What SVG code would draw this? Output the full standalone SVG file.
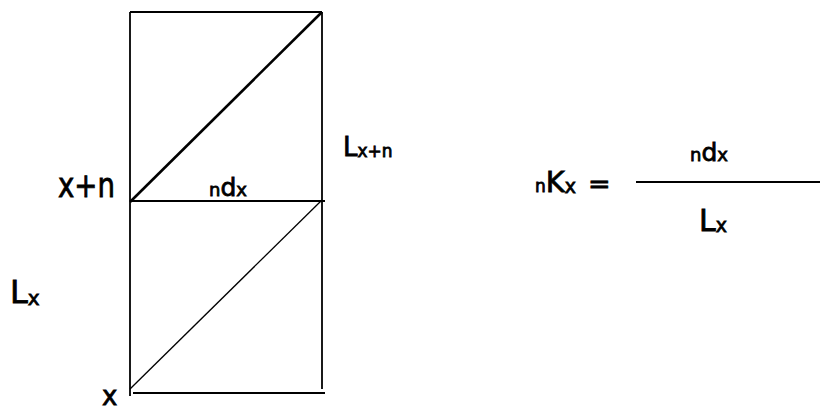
<svg xmlns="http://www.w3.org/2000/svg" width="823" height="410" viewBox="0 0 823 410">
<style>
.ln{stroke:#000;stroke-width:1.8;fill:none}
.thin{stroke:#000;stroke-width:1.3;fill:none}
.thick{stroke:#000;stroke-width:2.6;fill:none}
text{font-family:"DejaVu Sans","Liberation Sans",sans-serif;fill:#000;stroke:#000;stroke-width:0.8}
</style>
<rect width="823" height="410" fill="#fff"/>
<g id="connectors">
<line class="ln" x1="130" y1="12" x2="322" y2="12"/>
<line class="ln" x1="130" y1="12" x2="130" y2="396"/>
<line class="ln" x1="322" y1="12" x2="322" y2="201"/>
<line class="ln" x1="322" y1="201" x2="322" y2="389"/>
<line class="ln" x1="130" y1="201" x2="325" y2="201"/>
<line class="ln" x1="133" y1="393" x2="325" y2="393"/>
<line class="thick" x1="130" y1="202" x2="322" y2="12"/>
<line class="thin" x1="130" y1="389" x2="322" y2="200"/>
<line class="ln" x1="636" y1="182" x2="820" y2="182"/>
</g>
<g id="label-xn"><text x="58" y="197" font-size="33" textLength="57" lengthAdjust="spacingAndGlyphs">x+n</text></g>
<g id="label-ndx"><text x="209" y="196"><tspan font-size="18">n</tspan><tspan font-size="25">d</tspan><tspan font-size="18">x</tspan></text></g>
<g id="label-Lxn"><text x="343" y="156"><tspan font-size="26">L</tspan><tspan font-size="17" dy="1">x+n</tspan></text></g>
<g id="label-Lx"><text x="10" y="303"><tspan font-size="32">L</tspan><tspan font-size="20" dy="2">x</tspan></text></g>
<g id="label-x"><text x="102" y="405" font-size="26">x</text></g>
<g id="formula">
<text x="535" y="192"><tspan font-size="17">n</tspan><tspan font-size="29">K</tspan><tspan font-size="19" dy="1">x</tspan></text>
<text x="588" y="193" font-size="27">=</text>
<text x="690" y="161"><tspan font-size="18">n</tspan><tspan font-size="25">d</tspan><tspan font-size="18">x</tspan></text>
<text x="699" y="231"><tspan font-size="30">L</tspan><tspan font-size="19" dy="1">x</tspan></text>
</g>
</svg>
